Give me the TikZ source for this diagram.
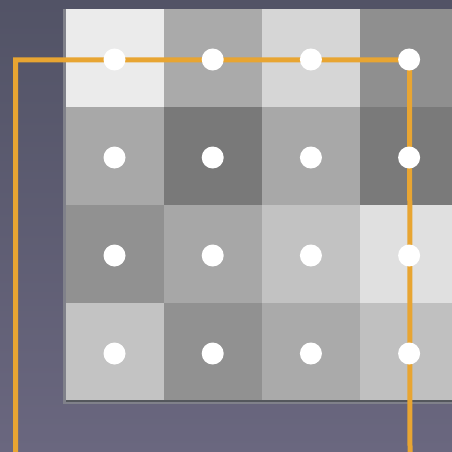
\documentclass[tikz,border=0pt]{standalone}
\begin{document}
\begin{tikzpicture}[x=1pt,y=-1pt,
  cell/.style={draw=none,minimum width=98.5pt,minimum height=98.5pt,inner sep=0pt,outer sep=0pt},
  dot/.style={circle,fill=white,minimum size=22pt,inner sep=0pt},
  route/.style={draw=orangeL,line width=5pt}]
\definecolor{bgtop}{HTML}{525366}
\definecolor{bgbot}{HTML}{6A677F}
\definecolor{orangeL}{HTML}{E8A532}
\useasboundingbox (0,0) rectangle (452,452);
\shade[top color=bgtop,bottom color=bgbot] (0,0) rectangle (452,452);
% grid frame
\fill[fill={rgb,255:red,128;green,129;blue,138}] (63,9) rectangle (452,404);
% cells
\foreach \r/\c/\g in {
  1/1/235,1/2/170,1/3/214,1/4/143,
  2/1/168,2/2/121,2/3/168,2/4/122,
  3/1/145,3/2/167,3/3/194,3/4/224,
  4/1/195,4/2/145,4/3/170,4/4/192}{
  \pgfmathsetmacro\xx{66+(\c-1)*98.2+49}
  \pgfmathsetmacro\yy{9+(\r-1)*98+49}
  \definecolor{cc}{RGB}{\g,\g,\g}
  \node[cell,fill=cc] (cell\r\c) at (\xx,\yy) {};
}
\draw[line width=2pt,color={rgb,255:red,84;green,87;blue,92}] (66,401) -- (452,401);
% route
\coordinate (start) at (15.5,452);
\coordinate (bend) at (15.5,60);
\coordinate (stop) at (410,452);
\draw[route] (start) -- (bend) -- (cell14.center |- bend) -- (stop);
% dots
\foreach \r in {1,2,3,4}{
  \foreach \c in {1,2,3,4}{
    \node[dot] (d\r\c) at ([shift={(-0.5,1.5)}]cell\r\c.center) {};
  }
}
\end{tikzpicture}
\end{document}
